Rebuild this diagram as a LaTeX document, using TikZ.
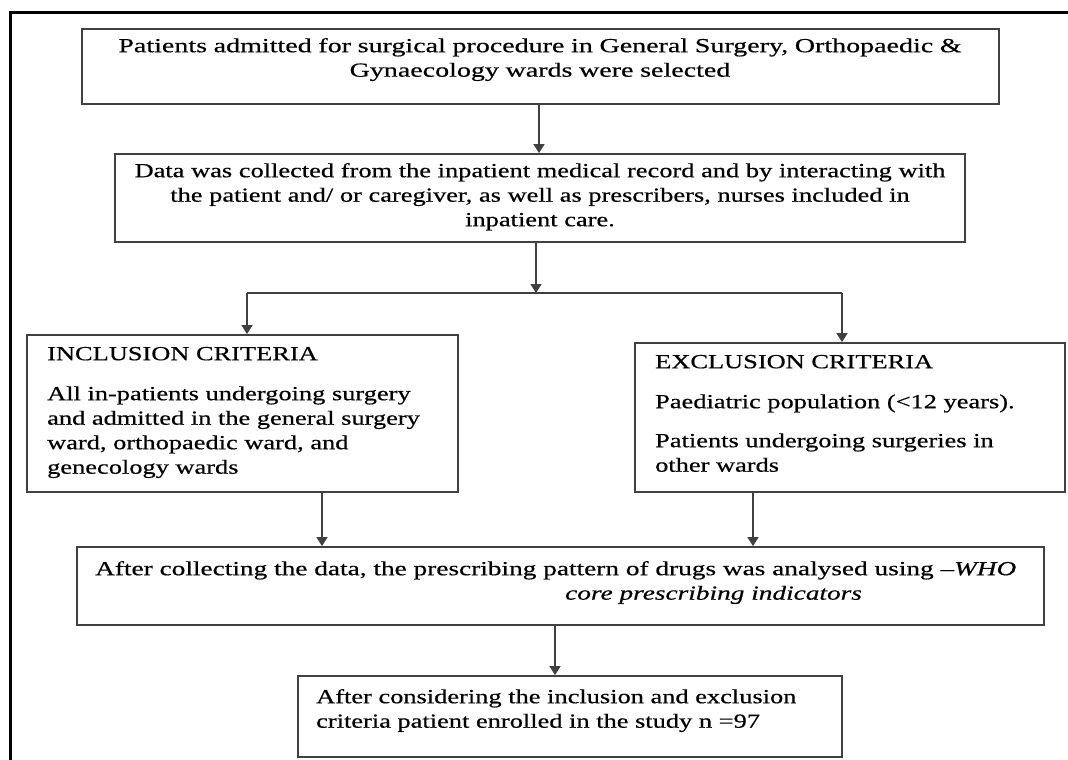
\documentclass[tikz,border=0pt]{standalone}
\usepackage{fontspec}
\setmainfont{Liberation Serif}[FakeStretch=1.32, FakeBold=0.5]
\newfontfamily\widefont{Liberation Serif}[FakeStretch=1.40, FakeBold=0.5, Ligatures=TeX]
\newfontfamily\midfont{Liberation Serif}[FakeStretch=1.365, FakeBold=0.5, Ligatures=TeX]
\usetikzlibrary{arrows.meta}
\definecolor{lncol}{HTML}{404040}
\tikzset{
  box/.style={draw=lncol, line width=1.8pt, inner sep=0pt},
  txt/.style={inner sep=0pt, font=\fontsize{20}{24.5}\selectfont},
  widetxt/.style={inner sep=0pt, font=\widefont\fontsize{20}{24.5}\selectfont},
  midtxt/.style={inner sep=0pt, font=\midfont\fontsize{20}{24.5}\selectfont},
  conn/.style={draw=lncol, line width=1.5pt},
  arr/.style={conn, -{Triangle[width=11pt,length=9pt]}},
}
\begin{document}
\begin{tikzpicture}[x=1pt, y=-1pt]
\useasboundingbox (0,0) rectangle (1068,760);
% outer frame
\draw[line width=3pt] (10,760) -- (10,13) -- (1068,13);

% boxes
\node[box, minimum width=917pt, minimum height=75pt] (b1) at (540.5,66.5) {};
\node[box, minimum width=850pt, minimum height=88pt] (b2) at (540,198) {};
\node[box, minimum width=431pt, minimum height=157pt] (b3) at (242.5,413.5) {};
\node[box, minimum width=430pt, minimum height=149pt] (b4) at (850,417.5) {};
\node[box, minimum width=967pt, minimum height=78pt] (b5) at (560.5,586) {};
\node[box, minimum width=544pt, minimum height=81pt] (b6) at (570,716.5) {};

% texts
\node[widetxt, anchor=north, text width=900pt, align=center] (t1) at (540,34.85)
  {\strut Patients admitted for surgical procedure in General Surgery, Orthopaedic \&\\ Gynaecology wards were selected};
\node[txt, anchor=north, text width=840pt, align=center] (t2) at (540,159.85)
  {\strut Data was collected from the inpatient medical record and by interacting with\\ the patient and/ or caregiver, as well as prescribers, nurses included in\\ inpatient care.};
\node[txt, anchor=north west, align=left] (t3) at (47,342.85)
  {\strut INCLUSION CRITERIA\\[15.5pt] All in-patients undergoing surgery\\ and admitted in the general surgery\\ ward, orthopaedic ward, and\\ genecology wards};
\node[txt, anchor=north west, align=left] (t4) at (655,350.85)
  {\strut EXCLUSION CRITERIA\\[15.5pt] Paediatric population (<12 years).\\[14.5pt] Patients undergoing surgeries in\\ other wards};
\node[midtxt, anchor=north west, align=left] (t5) at (95,557.85)
  {\strut After collecting the data, the prescribing pattern of drugs was analysed using –\textit{WHO}\\ \hspace*{470pt}\textit{core prescribing indicators}};
\node[txt, anchor=north west, align=left] (t6) at (316,685.85)
  {\strut After considering the inclusion and exclusion\\ criteria patient enrolled in the study n =97};

% helper coordinates
\coordinate (split) at (536,293);
\coordinate (sl) at (247,293);
\coordinate (sr) at (842,293);
\coordinate (xa) at (539,0);
\coordinate (xb) at (322,0);
\coordinate (xc) at (753,0);
\coordinate (xd) at (555,0);

% connectors
\draw[arr] (b1.south -| xa) -- (b2.north -| xa);
\draw[arr] (b2.south -| split) -- (split);
\draw[conn] (sl) -- (sr);
\draw[arr] (sl) -- (b3.north -| sl);
\draw[arr] (sr) -- (b4.north -| sr);
\draw[arr] (b3.south -| xb) -- (b5.north -| xb);
\draw[arr] (b4.south -| xc) -- (b5.north -| xc);
\draw[arr] (b5.south -| xd) -- (b6.north -| xd);
\end{tikzpicture}
\end{document}
